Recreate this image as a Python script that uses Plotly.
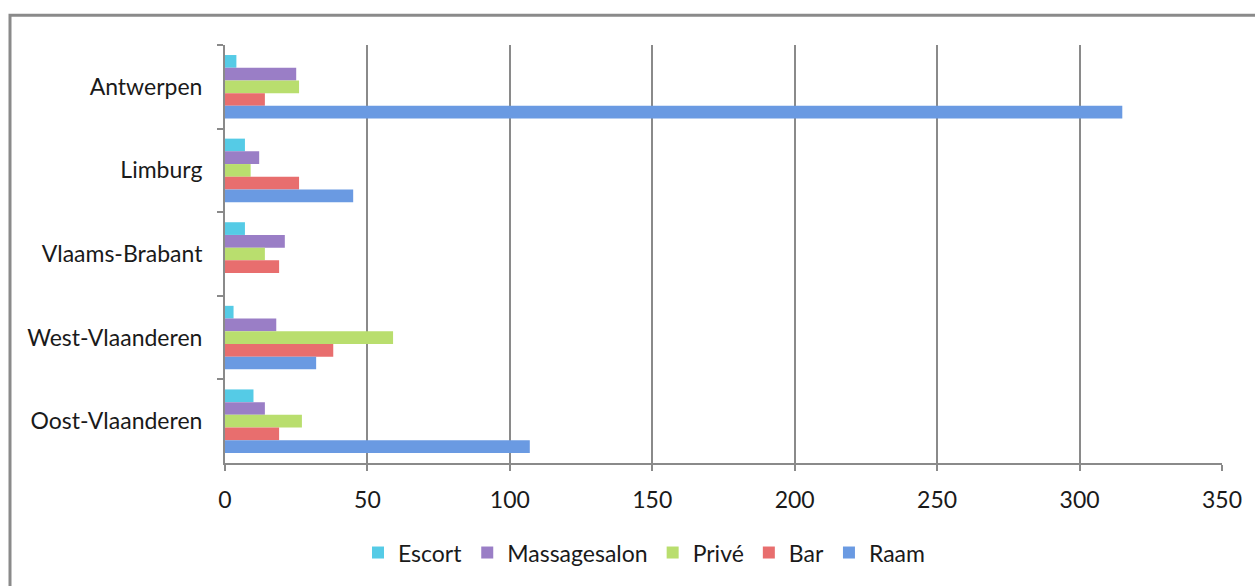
import plotly.graph_objects as go

regions = ["Antwerpen", "Limburg", "Vlaams-Brabant", "West-Vlaanderen", "Oost-Vlaanderen"]
escort = [4, 7, 7, 3, 10]
massagesalon = [25, 12, 21, 18, 14]
prive = [26, 9, 14, 59, 27]
bar = [14, 26, 19, 38, 19]
raam = [315, 45, 0, 32, 107]
x_ticks = [0, 50, 100, 150, 200, 250, 300, 350]

series = [
    ("Escort", escort, "#55cbe6"),
    ("Massagesalon", massagesalon, "#9a7ec6"),
    ("Privé", prive, "#b9de6e"),
    ("Bar", bar, "#e86e6e"),
    ("Raam", raam, "#6a9ae2"),
]

fig = go.Figure()
for name, vals, col in series:
    fig.add_trace(go.Bar(
        y=regions, x=vals, name=name, orientation="h",
        marker=dict(color=col, line=dict(width=0)),
    ))

FONT = "Lato"
W, H = 1255, 586
L, R, T, B = 225, 33, 45, 121
pw, ph = W - L - R, H - T - B

fig.update_layout(
    width=W, height=H,
    margin=dict(l=L, r=R, t=T, b=B),
    paper_bgcolor="white", plot_bgcolor="white",
    barmode="group", bargap=0.24, bargroupgap=0,
    font=dict(family=FONT, size=23, color="#1a1a1a"),
    showlegend=True,
    legend=dict(orientation="h", x=(644 - L) / pw, xanchor="center",
                y=(H - B - 555) / ph, yanchor="middle",
                font=dict(family=FONT, size=23, color="#1a1a1a"),
                itemwidth=30, traceorder="normal"),
    xaxis=dict(range=[0, 350], tickvals=x_ticks, showgrid=True,
               gridcolor="#8a8a8a", gridwidth=2, zeroline=False,
               showline=True, linecolor="#8a8a8a", linewidth=2,
               ticks="outside", ticklen=6, tickcolor="#8a8a8a", tickwidth=2,
               ticklabelstandoff=9, fixedrange=True),
    yaxis=dict(autorange="reversed", showgrid=False, zeroline=False,
               showline=True, linecolor="#8a8a8a", linewidth=2,
               ticks="outside", ticklen=6, tickcolor="#8a8a8a", tickwidth=2,
               tickson="boundaries", ticklabelstandoff=16, fixedrange=True),
    shapes=[dict(type="rect", xref="paper", yref="paper",
                 x0=(10 - L) / pw, x1=(W + 20 - L) / pw,
                 y0=(H - B - (H + 20)) / ph, y1=(H - B - 15) / ph,
                 line=dict(color="#8a8a8a", width=3), layer="below")],
)

fig.write_html("out.html")
